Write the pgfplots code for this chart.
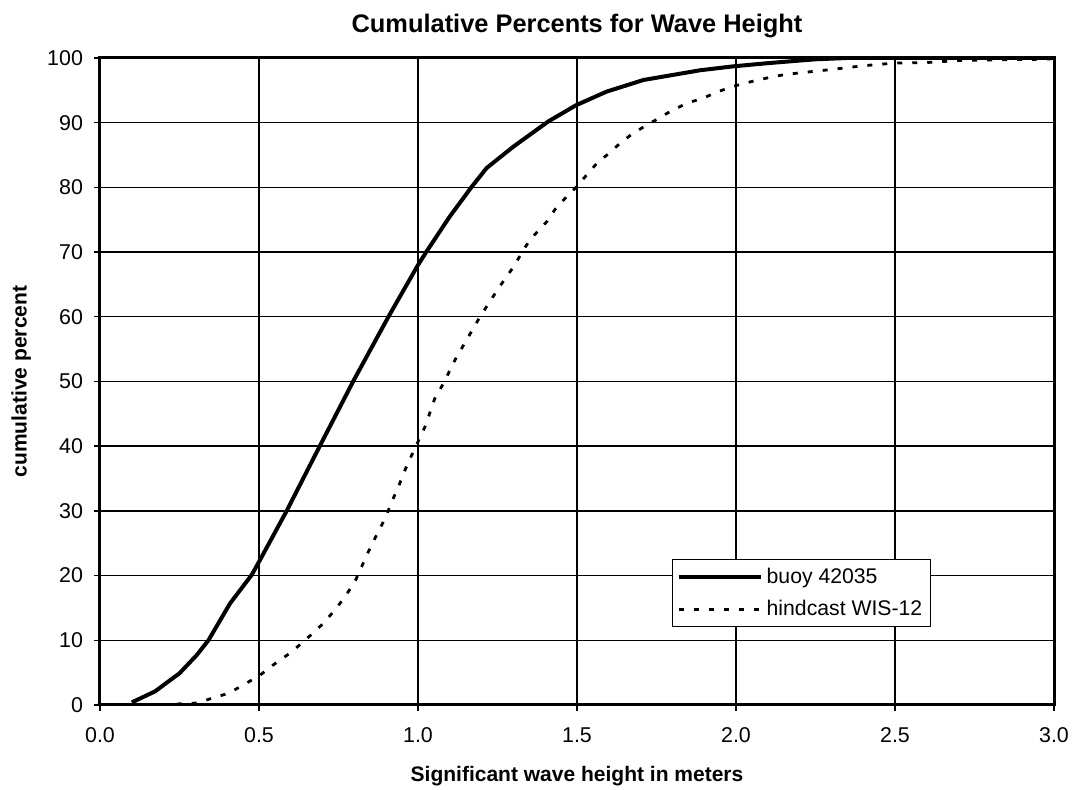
\documentclass[border=0pt]{standalone}
\usepackage{fontspec}
\setmainfont{Liberation Sans}
\usepackage{pgfplots}
\pgfplotsset{compat=1.18}
\begin{document}
\begin{tikzpicture}
\useasboundingbox (-50pt,-42.5pt) rectangle (486.5pt,352.5pt);
\begin{axis}[
  at={(0,0)}, anchor=south west,
  scale only axis, width=477pt, height=323.5pt,
  xmin=0, xmax=3, ymin=0, ymax=100,
  xtick={0,0.5,1,1.5,2,2.5,3}, ytick={0,10,...,100},
  xticklabels={0.0,0.5,1.0,1.5,2.0,2.5,3.0},
  /pgf/number format/assume math mode=true,
  tick label style={font=\fontsize{10.7}{12}\selectfont, black},
  xticklabel style={anchor=base, yshift=-16pt},
  yticklabel style={anchor=east, xshift=-2pt},
  grid=major, major grid style={black, line width=0.7pt},
  axis line style={black, line width=1.5pt},
  tick align=outside, tick pos=left, major tick length=3pt,
  tick style={black, line width=0.7pt},
  title={Cumulative Percents for Wave Height},
  every axis title shift=0pt,
  title style={font=\fontsize{12.7}{14}\selectfont\bfseries, at={([yshift=12.5pt]axis description cs:0.5,1)}, anchor=base},
  xlabel={Significant wave height in meters},
  xlabel style={font=\fontsize{10.5}{12}\selectfont\bfseries, at={([yshift=-38.5pt]axis description cs:0.5,0)}, anchor=base},
  ylabel={cumulative percent},
  ylabel style={font=\fontsize{10.5}{12}\selectfont\bfseries, at={([xshift=-36.7pt]axis description cs:0,0.5)}, anchor=base, rotate=0},
  legend style={at={(rel axis cs:0.5996,0.2257)}, anchor=north west, draw=black, line width=0.7pt,
    font=\fontsize{10.6}{12}\selectfont, inner xsep=2pt, inner ysep=2pt,
    nodes={inner sep=2pt, anchor=west}, row sep=3pt},
  legend cell align=left,
  legend image code/.code={\draw[#1] (0pt,0pt) -- (41pt,0pt);},
]
\addplot[black, line width=2pt, line join=round] coordinates {
(0.10,0.4) (0.173,2.1) (0.25,4.9) (0.304,7.7) (0.341,10.0) (0.409,15.7) (0.477,20.1) (0.503,22.4) (0.587,30.0) (0.692,40.1) (0.797,50.1) (0.907,60.0) (1.0,68.0) (1.027,70.1) (1.10,75.5) (1.169,80.1) (1.216,83.0) (1.30,86.3) (1.41,90.2) (1.497,92.7) (1.593,94.8) (1.709,96.6) (1.887,98.1) (1.99,98.7) (2.10,99.2) (2.25,99.8) (2.35,100) (3.0,100)
};
\addlegendentry{buoy 42035}
\addplot[black, line width=1.4pt, dash pattern=on 2.5pt off 5pt] coordinates {
(0.1,0) (0.2,0.05) (0.304,0.3) (0.356,1.1) (0.404,1.8) (0.451,3.1) (0.503,4.6) (0.545,6.2) (0.597,8.0) (0.645,10.0) (0.702,12.6) (0.739,14.7) (0.770,16.7) (0.802,19.1) (0.823,21.4) (0.844,23.7) (0.865,25.8) (0.891,28.3) (0.907,30.1) (0.922,31.9) (0.943,34.3) (0.959,36.3) (0.980,38.6) (1.0,40.7) (1.022,43.0) (1.053,47.4) (1.080,49.7) (1.116,53.3) (1.143,55.6) (1.195,60.0) (1.253,64.4) (1.30,67.7) (1.329,70.1) (1.352,71.9) (1.405,74.7) (1.431,76.6) (1.468,78.6) (1.499,80.1) (1.530,81.9) (1.562,83.7) (1.599,85.2) (1.635,86.8) (1.677,88.4) (1.74,90.2) (1.792,91.7) (1.845,93.0) (1.897,93.8) (1.944,94.8) (1.99,95.6) (2.044,96.3) (2.097,96.9) (2.149,97.4) (2.20,97.7) (2.296,98.2) (2.40,98.8) (2.495,99.2) (2.60,99.3) (2.70,99.6) (2.80,99.7) (2.96,99.8) (3.0,99.9)
};
\addlegendentry{hindcast WIS-12}
\end{axis}
\end{tikzpicture}
\end{document}
